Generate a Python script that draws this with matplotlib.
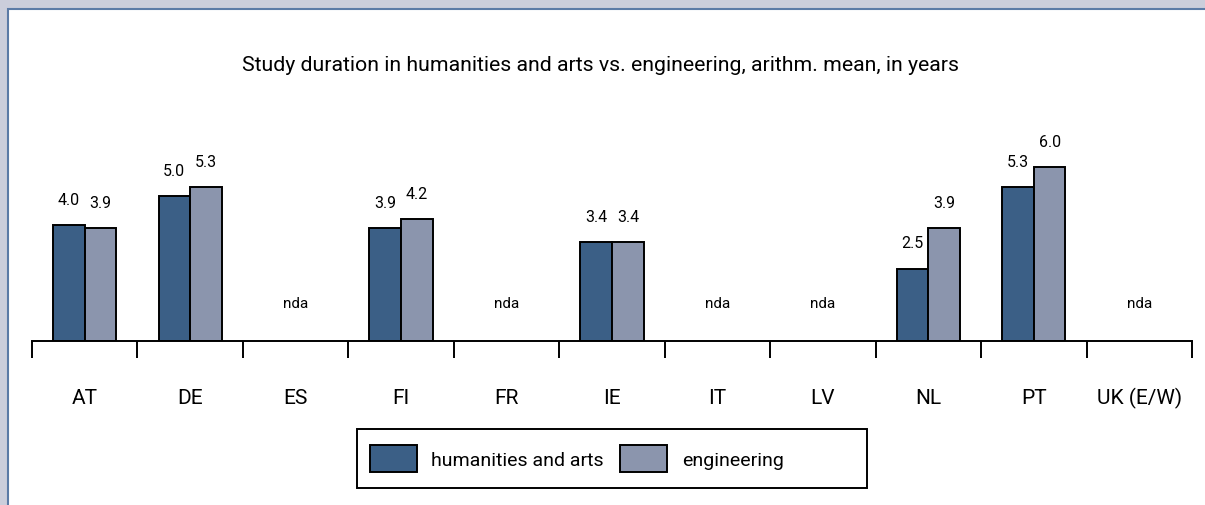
import numpy as np
import matplotlib
matplotlib.use('Agg')
import matplotlib.pyplot as plt
from matplotlib.patches import Rectangle, Patch

plt.rcParams['font.family'] = ['Roboto', 'DejaVu Sans']

# ==================== data ====================
countries = ['AT', 'DE', 'ES', 'FI', 'FR', 'IE', 'IT', 'LV', 'NL', 'PT', 'UK (E/W)']
humanities = [4.0, 5.0, None, 3.9, None, 3.4, None, None, 2.5, 5.3, None]
engineering = [3.9, 5.3, None, 4.2, None, 3.4, None, None, 3.9, 6.0, None]
series_names = ['humanities and arts', 'engineering']
title = 'Study duration in humanities and arts vs. engineering, arithm. mean, in years'

C_HUM = '#3b5f86'
C_ENG = '#8b95ad'
W, H = 1205, 506
PX = 72 / 100  # points per pixel at dpi 100

fig = plt.figure(figsize=(W / 100, H / 100), dpi=100)
fig.patch.set_facecolor('#cbcedb')

# white panel with blue border
fig.patches.append(Rectangle((8 / W, -0.1), 1.2, 1 - 10 / H + 0.1, transform=fig.transFigure,
                             facecolor='white', edgecolor='#5b7ba6', linewidth=1.5, zorder=-5))

base_y = 342
unit = 29  # pixels per year
ax_h = 250
ax = fig.add_axes([32 / W, (H - base_y) / H, 1160 / W, ax_h / H])
ax.set_facecolor('none')
ax.set_xlim(0, len(countries))
ax.set_ylim(0, ax_h / unit)

bw = 0.3
for i, c in enumerate(countries):
    h, e = humanities[i], engineering[i]
    if h is None and e is None:
        ax.annotate('nda', (i + 0.5, 0), xytext=(0, 34 * PX), textcoords='offset points',
                    ha='center', va='baseline', fontsize=11)
        continue
    ax.bar(i + 0.5 - bw / 2, h, bw, color=C_HUM, edgecolor='black', linewidth=1.4, zorder=3)
    ax.bar(i + 0.5 + bw / 2, e, bw, color=C_ENG, edgecolor='black', linewidth=1.4, zorder=3)
    for xx, v in [(i + 0.5 - bw / 2, h), (i + 0.5 + bw / 2, e)]:
        ax.annotate(f'{v:.1f}', (xx, v), xytext=(0, 21 * PX), textcoords='offset points',
                    ha='center', va='baseline', fontsize=11.5)

for i, c in enumerate(countries):
    ax.annotate(c, (i + 0.5, 0), xytext=(0, -62 * PX), textcoords='offset points',
                ha='center', va='baseline', fontsize=15, annotation_clip=False)

for s in ['top', 'left', 'right']:
    ax.spines[s].set_visible(False)
ax.spines['bottom'].set_linewidth(1.4)
ax.spines['bottom'].set_zorder(4)
ax.set_yticks([])
ax.set_xticks(np.arange(len(countries) + 1))
ax.set_xticklabels([])
ax.tick_params(axis='x', direction='out', length=17 * PX, width=1.4)

fig.text(601 / W, 1 - 71 / H, title, ha='center', va='baseline', fontsize=15.3)

# legend box
lx0, lx1, ly0, ly1 = 357, 867, 430, 489
fig.patches.append(Rectangle((lx0 / W, 1 - ly1 / H), (lx1 - lx0) / W, (ly1 - ly0) / H,
                             transform=fig.transFigure, facecolor='white', edgecolor='black',
                             linewidth=1.4, zorder=1))
handles = [Patch(facecolor=C_HUM, edgecolor='black', linewidth=1.4),
           Patch(facecolor=C_ENG, edgecolor='black', linewidth=1.4)]
fig.legend(handles, series_names, loc='center left', bbox_to_anchor=(370 / W, 1 - 459.5 / H),
           ncol=2, frameon=False, fontsize=14, handlelength=2.4, handleheight=1.7,
           handletextpad=0.75, columnspacing=0.85, borderpad=0, borderaxespad=0)

fig.savefig('out.png', dpi=100, facecolor=fig.get_facecolor())
